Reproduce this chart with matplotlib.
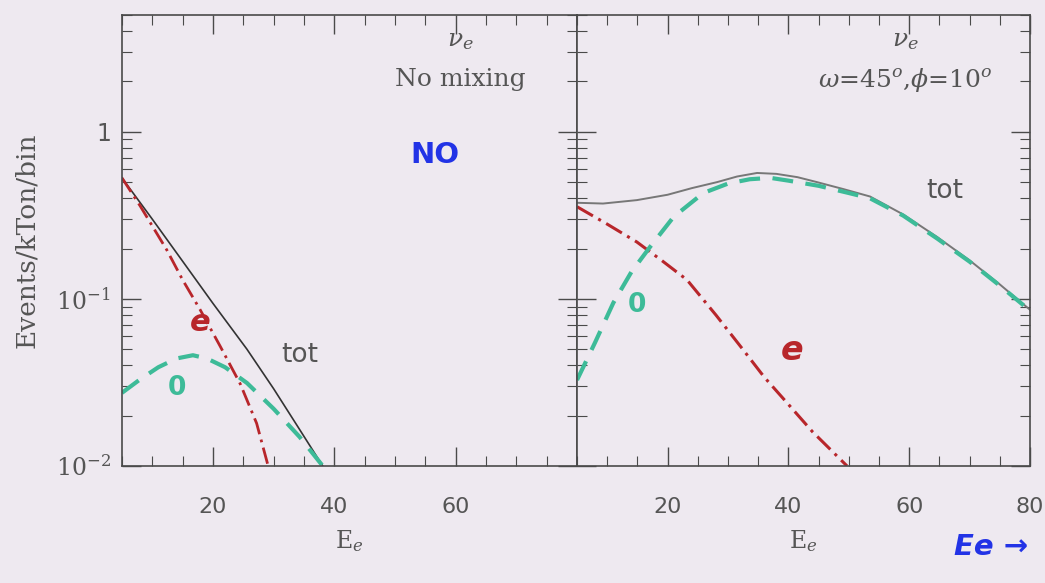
import matplotlib
matplotlib.use("Agg")
import matplotlib.pyplot as plt
from matplotlib.ticker import FixedLocator, LogLocator, NullFormatter

plt.rcParams["mathtext.fontset"] = "dejavuserif"

# ---- data: events per kTon per bin vs electron energy E_e ----
# Left panel: no mixing
left_tot_x = [5, 10, 15, 20, 25.6, 30, 34.3, 38.1]
left_tot_y = [0.53, 0.30, 0.168, 0.094, 0.050, 0.029, 0.0165, 0.010]

left_e_x = [5, 8, 12.4, 15, 17.9, 21.2, 24.5, 27.2, 29.1]
left_e_y = [0.53, 0.36, 0.196, 0.13, 0.086, 0.052, 0.031, 0.018, 0.010]

left_0_x = [5, 8, 11, 14, 16.7, 19, 22, 25.6, 30, 34.3, 38.1]
left_0_y = [0.0274, 0.033, 0.039, 0.044, 0.046, 0.044, 0.039, 0.0314, 0.022, 0.0149, 0.010]

# Right panel: omega = 45 deg, phi = 10 deg
right_tot_x = [5, 9.3, 14.9, 20, 24, 28.2, 31.5, 34.8, 38, 41.5, 44.7, 49, 53.5, 59, 64.6, 70, 75, 80]
right_tot_y = [0.376, 0.372, 0.39, 0.42, 0.46, 0.50, 0.54, 0.567, 0.56, 0.535, 0.50, 0.455, 0.41, 0.32, 0.235, 0.17, 0.122, 0.086]

right_e_x = [5, 10, 14.9, 19, 23.2, 28, 32.5, 36, 39.8, 44, 47, 49.7]
right_e_y = [0.356, 0.28, 0.219, 0.17, 0.13, 0.080, 0.0496, 0.034, 0.0238, 0.016, 0.0125, 0.010]

right_0_x = [5, 8, 11, 14, 17.1, 21, 25.9, 30, 33.6, 37, 40, 45, 50, 53.5, 59, 64.6, 70, 75, 80]
right_0_y = [0.0327, 0.055, 0.0946, 0.145, 0.205, 0.31, 0.43, 0.49, 0.52, 0.53, 0.51, 0.475, 0.43, 0.40, 0.315, 0.23, 0.167, 0.12, 0.085]

x_limits = (5, 80)
y_limits = (0.01, 5)

BG = "#eee9f0"
INK = "#4a4a4a"
TXT = "#555555"
RED = "#b8262b"
GREEN = "#3dbb98"
BLUE = "#2233e6"

fig = plt.figure(figsize=(10.45, 5.83), dpi=100, facecolor=BG)
ax_l = fig.add_axes([0.1167, 0.2007, 0.4354, 0.7736])
ax_r = fig.add_axes([0.5522, 0.2007, 0.4335, 0.7736], sharey=ax_l)

for ax in (ax_l, ax_r):
    ax.set_facecolor(BG)
    ax.set_yscale("log")
    ax.set_xlim(*x_limits)
    ax.set_ylim(*y_limits)
    for s in ax.spines.values():
        s.set_color(INK)
        s.set_linewidth(1.2)
    ax.xaxis.set_major_locator(FixedLocator([20, 40, 60, 80]))
    ax.xaxis.set_minor_locator(FixedLocator(list(range(5, 81, 5))))
    ax.yaxis.set_major_locator(LogLocator(base=10))
    ax.yaxis.set_minor_locator(LogLocator(base=10, subs=range(2, 10)))
    ax.yaxis.set_minor_formatter(NullFormatter())
    ax.tick_params(which="both", direction="in", top=True, right=True, colors=INK,
                   labelcolor=TXT)
    ax.tick_params(which="major", length=14, width=1.0)
    ax.tick_params(which="minor", length=7, width=0.8)
    ax.tick_params(axis="x", labelsize=16, pad=22)
    ax.set_xlabel(r"$\mathrm{E}_{e}$", fontsize=17, color=TXT, labelpad=8)

ax_l.set_xticks([20, 40, 60])
ax_l.set_yticks([0.01, 0.1, 1])
ax_l.set_yticklabels([r"$10^{-2}$", r"$10^{-1}$", "1"], fontsize=17)
ax_l.tick_params(axis="y", pad=8)
ax_r.tick_params(axis="y", labelleft=False)
ax_l.set_ylabel("Events/kTon/bin", family="DejaVu Serif", fontsize=19,
                color=TXT, labelpad=12)

# left panel curves
ax_l.plot(left_tot_x, left_tot_y, color="#333333", lw=1.2)
ax_l.plot(left_e_x, left_e_y, color=RED, lw=2.0, ls=(0, (6, 2, 1, 2)))
ax_l.plot(left_0_x, left_0_y, color=GREEN, lw=3.0, ls=(0, (5, 3)))

# right panel curves
ax_r.plot(right_tot_x, right_tot_y, color="#777777", lw=1.4)
ax_r.plot(right_e_x, right_e_y, color=RED, lw=2.2, ls=(0, (6, 2, 1, 2)))
ax_r.plot(right_0_x, right_0_y, color=GREEN, lw=3.0, ls=(0, (5, 3)))

# printed annotations
serif = dict(family="DejaVu Serif", color=TXT)
ax_l.text(0.743, 0.945, r"$\nu_e$", transform=ax_l.transAxes, ha="center",
          va="center", fontsize=18, color=TXT)
ax_l.text(0.743, 0.856, "No mixing", transform=ax_l.transAxes, ha="center",
          va="center", fontsize=18, **serif)
ax_r.text(0.724, 0.945, r"$\nu_e$", transform=ax_r.transAxes, ha="center",
          va="center", fontsize=18, color=TXT)
ax_r.text(0.724, 0.856, r"$\omega$=45$^o$,$\phi$=10$^o$", transform=ax_r.transAxes,
          ha="center", va="center", fontsize=18, **serif)
ax_l.text(34.3, 0.046, "tot", ha="center", va="center", fontsize=19, color=TXT)
ax_r.text(65.9, 0.44, "tot", ha="center", va="center", fontsize=19, color=TXT)

# hand-written marks
hand = dict(fontweight="bold", ha="center", va="center")
ax_l.text(0.688, 0.69, "NO", transform=ax_l.transAxes, color=BLUE, fontsize=21, **hand)
ax_l.text(0.171, 0.319, "e", transform=ax_l.transAxes, color=RED, fontsize=22,
          fontstyle="italic", **hand)
ax_l.text(0.121, 0.173, "0", transform=ax_l.transAxes, color=GREEN, fontsize=19, **hand)
ax_r.text(0.132, 0.357, "0", transform=ax_r.transAxes, color=GREEN, fontsize=19, **hand)
ax_r.text(0.475, 0.257, "e", transform=ax_r.transAxes, color=RED, fontsize=24,
          fontstyle="italic", **hand)
fig.text(0.948, 0.062, "Ee →", color=BLUE, fontsize=21, fontstyle="italic", **hand)

fig.savefig("out.png", dpi=100, facecolor=BG)
